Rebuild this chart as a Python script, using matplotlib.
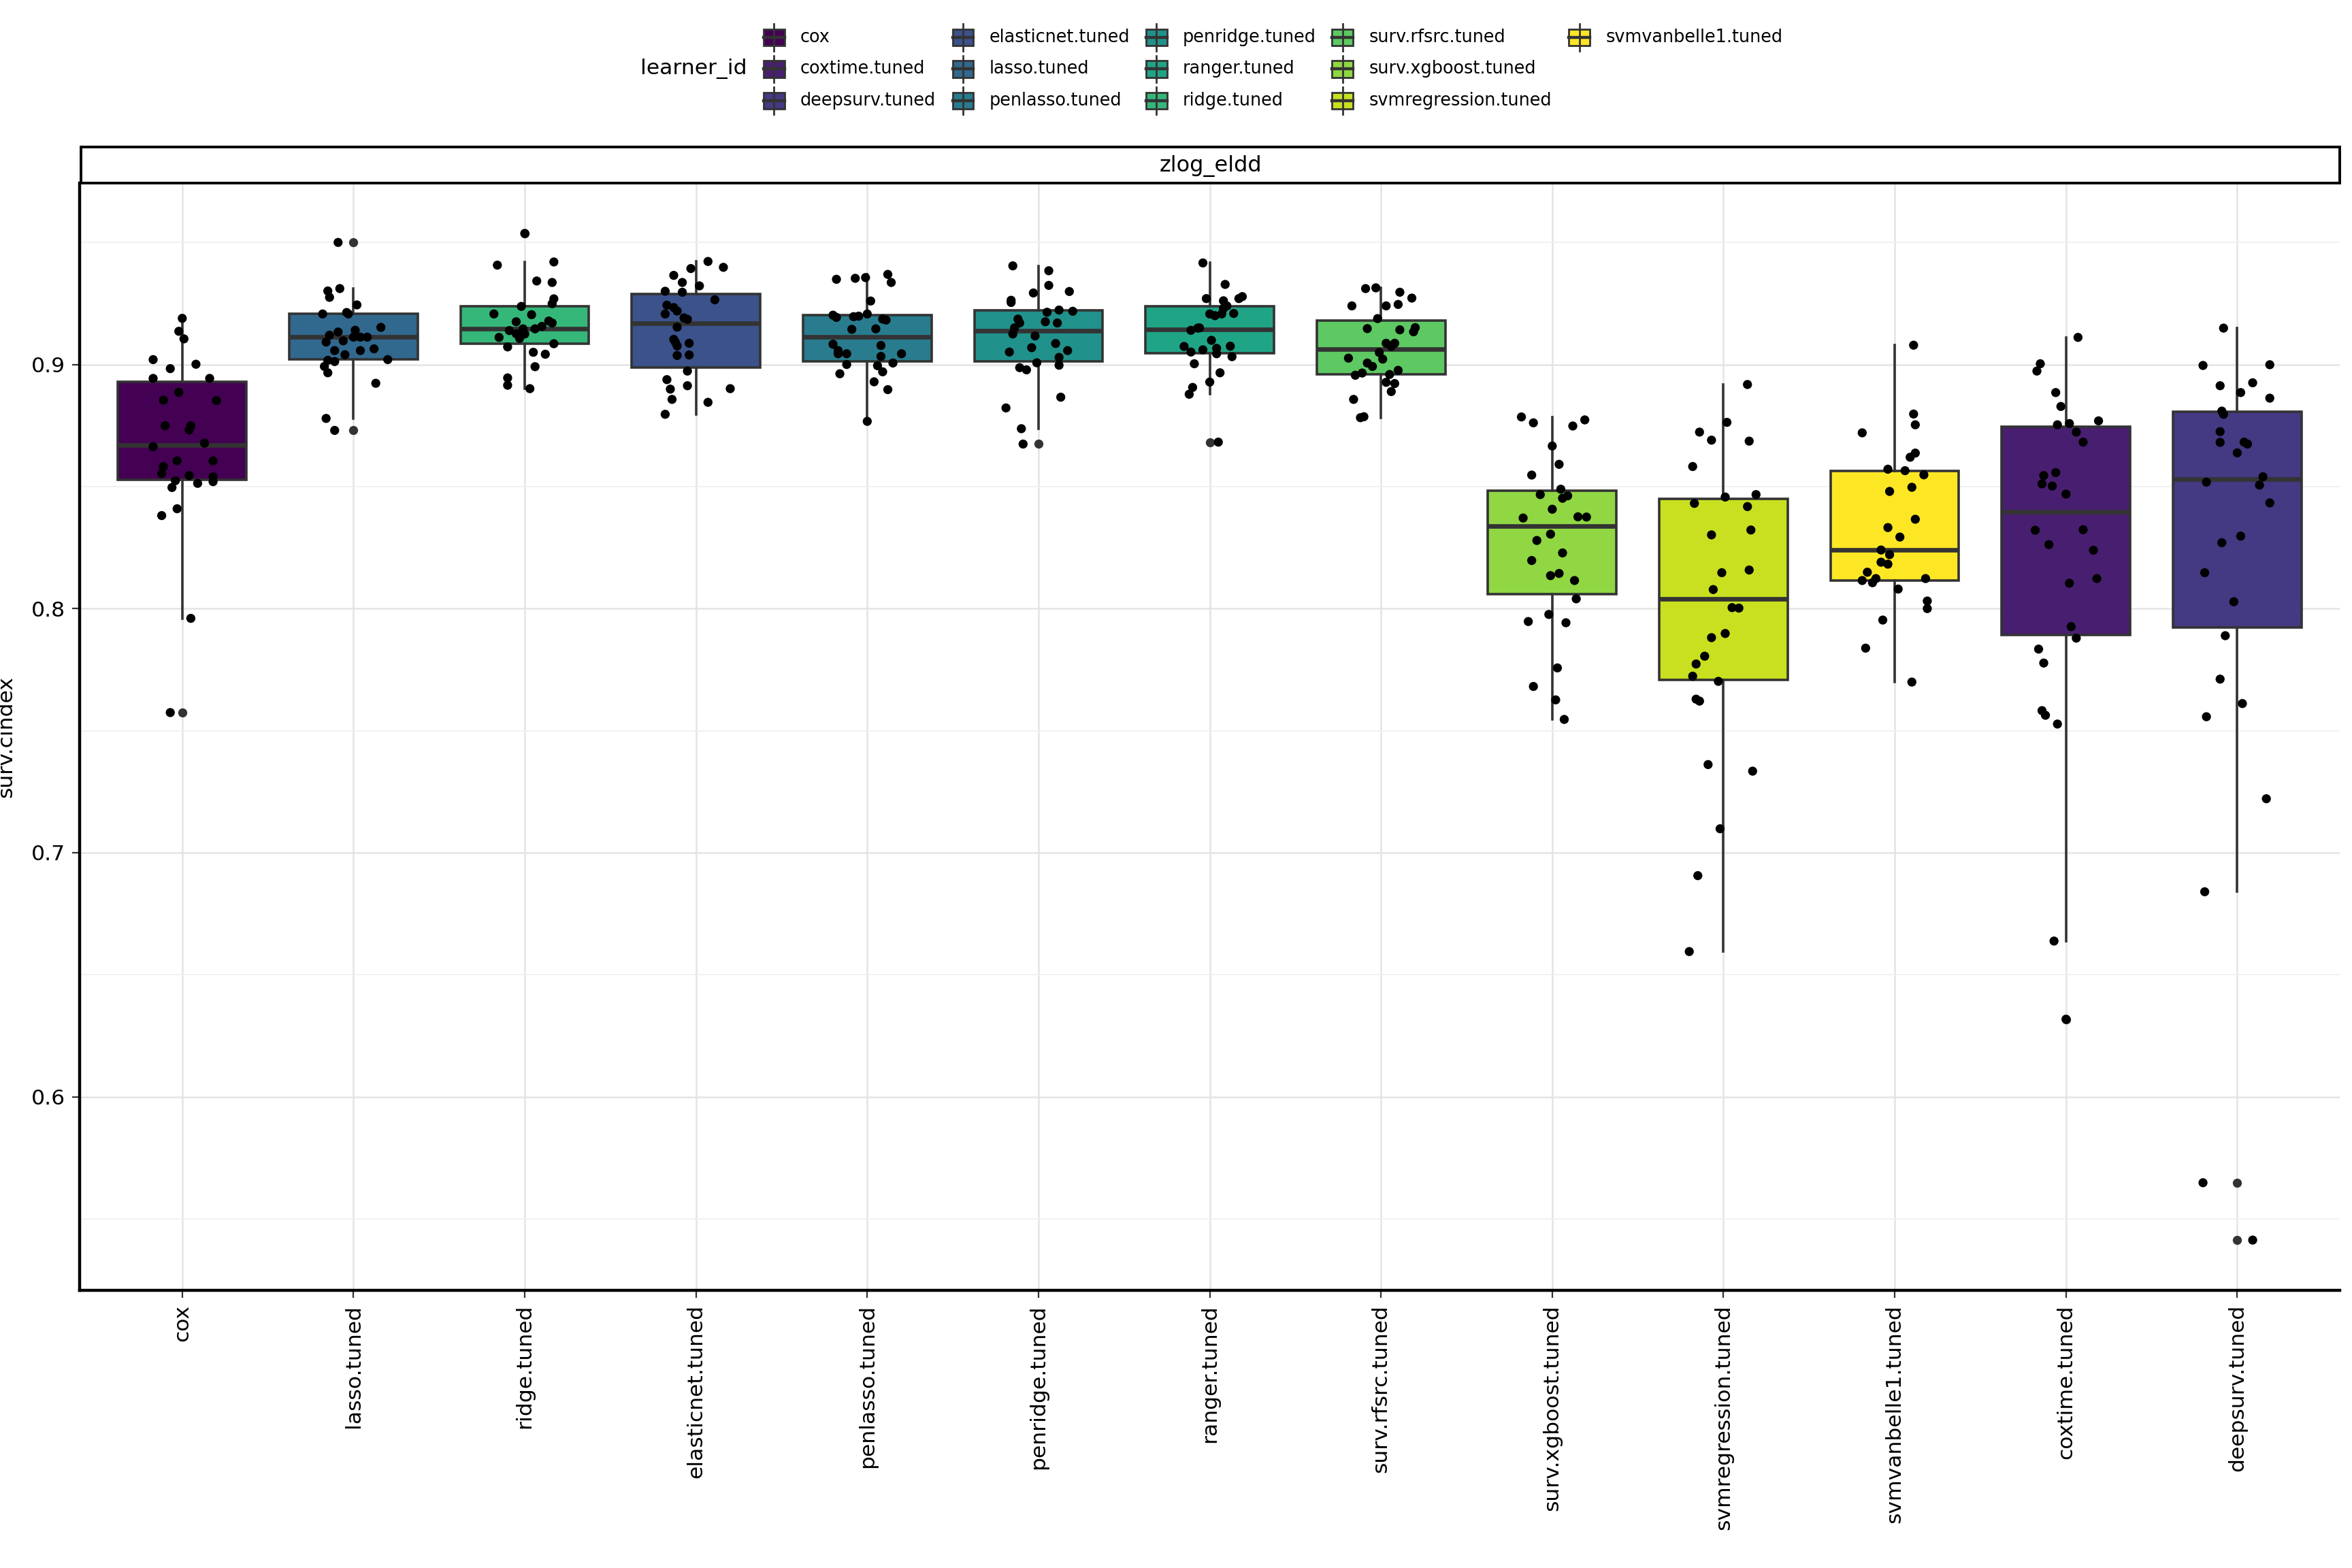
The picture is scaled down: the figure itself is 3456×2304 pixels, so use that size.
import matplotlib

matplotlib.use("Agg")
import matplotlib.pyplot as plt
import numpy as np
from matplotlib.patches import Rectangle

plt.rcParams["font.family"] = ["DejaVu Sans"]

# learner order on the x axis
learners = ["cox", "lasso.tuned", "ridge.tuned", "elasticnet.tuned", "penlasso.tuned",
            "penridge.tuned", "ranger.tuned", "surv.rfsrc.tuned", "surv.xgboost.tuned",
            "svmregression.tuned", "svmvanbelle1.tuned", "coxtime.tuned", "deepsurv.tuned"]
# legend (fill scale) order
legend_order = ["cox", "coxtime.tuned", "deepsurv.tuned", "elasticnet.tuned", "lasso.tuned",
                "penlasso.tuned", "penridge.tuned", "ranger.tuned", "ridge.tuned",
                "surv.rfsrc.tuned", "surv.xgboost.tuned", "svmregression.tuned",
                "svmvanbelle1.tuned"]

# surv.cindex per resampling iteration, with the jitter offsets used
cox_vals = [0.9189, 0.9136, 0.9105, 0.9020, 0.8983, 0.9001, 0.8943, 0.8943, 0.8886, 0.8854,
            0.8852, 0.8749, 0.8749, 0.8732, 0.8663, 0.8678, 0.8605, 0.8605, 0.8582, 0.8553,
            0.8545, 0.8524, 0.8540, 0.8520, 0.8496, 0.8513, 0.8409, 0.8381, 0.7960, 0.7574]
cox_jit = [0.00, -0.02, 0.01, -0.17, -0.07, 0.08, -0.17, 0.16, -0.02, -0.11, 0.20, -0.10, 0.05,
           0.04, -0.17, 0.13, -0.03, 0.18, -0.11, -0.12, 0.04, -0.04, 0.18, 0.18, -0.06, 0.09,
           -0.03, -0.12, 0.05, -0.07]
lasso_vals = [0.9500, 0.9301, 0.9311, 0.9275, 0.9244, 0.9207, 0.9213, 0.9207, 0.9152, 0.9140,
              0.9133, 0.9120, 0.9112, 0.9112, 0.9112, 0.9097, 0.9092, 0.9057, 0.9057, 0.9064,
              0.9040, 0.9017, 0.9012, 0.9020, 0.8992, 0.8966, 0.8923, 0.8779, 0.8730]
lasso_jit = [-0.09, -0.15, -0.08, -0.14, 0.02, -0.18, -0.04, -0.03, 0.16, 0.01, -0.09, -0.14,
             0.00, 0.04, 0.08, -0.06, -0.16, -0.11, 0.04, 0.12, -0.05, -0.15, -0.11, 0.20,
             -0.17, -0.15, 0.13, -0.16, -0.11]
ridge_vals = [0.9537, 0.9407, 0.9420, 0.9342, 0.9336, 0.9269, 0.9249, 0.9238, 0.9207, 0.9204,
              0.9175, 0.9178, 0.9170, 0.9156, 0.9139, 0.9146, 0.9146, 0.9126, 0.9125, 0.9111,
              0.9107, 0.9072, 0.9085, 0.9050, 0.9042, 0.8991, 0.8945, 0.8915, 0.8901]
ridge_jit = [0.00, -0.16, 0.17, 0.07, 0.16, 0.17, 0.16, -0.02, -0.18, 0.04, -0.05, 0.14, 0.16,
             0.10, -0.09, -0.01, 0.06, -0.05, 0.00, -0.15, -0.03, -0.10, 0.17, 0.05, 0.12,
             0.06, -0.10, -0.10, 0.03]
elastic_vals = [0.9422, 0.9398, 0.9393, 0.9365, 0.9336, 0.9322, 0.9300, 0.9296, 0.9265, 0.9243,
                0.9233, 0.9219, 0.9207, 0.9191, 0.9185, 0.9153, 0.9103, 0.9091, 0.9076, 0.9087,
                0.9037, 0.9039, 0.8973, 0.8938, 0.8899, 0.8913, 0.8901, 0.8857, 0.8845, 0.8796]
elastic_jit = [0.07, 0.16, -0.03, -0.13, -0.08, 0.02, -0.18, -0.08, 0.11, -0.17, -0.13, -0.11,
               -0.18, -0.07, -0.05, -0.11, -0.13, -0.12, -0.11, -0.04, -0.11, -0.04, -0.05,
               -0.17, -0.15, -0.05, 0.20, -0.14, 0.07, -0.18]
penlasso_vals = [0.9349, 0.9353, 0.9356, 0.9369, 0.9336, 0.9260, 0.9202, 0.9193, 0.9196, 0.9198,
                 0.9207, 0.9186, 0.9182, 0.9144, 0.9146, 0.9083, 0.9057, 0.9044, 0.9044, 0.9078,
                 0.9033, 0.9044, 0.9000, 0.8995, 0.9006, 0.8970, 0.8962, 0.8929, 0.8897, 0.8767]
penlasso_jit = [-0.18, -0.07, -0.01, 0.12, 0.14, 0.02, -0.20, -0.18, -0.08, -0.05, 0.00, 0.09,
                0.11, -0.09, 0.05, -0.20, -0.17, -0.17, -0.12, 0.08, 0.08, 0.20, -0.12, 0.06,
                0.15, 0.09, -0.16, 0.04, 0.12, 0.00]
penridge_vals = [0.9404, 0.9384, 0.9324, 0.9293, 0.9299, 0.9263, 0.9254, 0.9214, 0.9223, 0.9218,
                 0.9186, 0.9170, 0.9175, 0.9170, 0.9150, 0.9125, 0.9117, 0.9086, 0.9069, 0.9051,
                 0.9057, 0.9029, 0.9007, 0.8997, 0.8987, 0.8978, 0.8866, 0.8822, 0.8737, 0.8674]
penridge_jit = [-0.15, 0.06, 0.06, -0.03, 0.18, -0.16, -0.16, 0.05, 0.12, 0.20, -0.12, -0.11,
                0.04, 0.11, -0.14, -0.15, -0.02, 0.10, -0.04, -0.17, 0.17, 0.12, -0.01, 0.12,
                -0.11, -0.07, 0.13, -0.19, -0.10, -0.09]
ranger_vals = [0.9416, 0.9328, 0.9270, 0.9261, 0.9270, 0.9278, 0.9241, 0.9229, 0.9207, 0.9200,
               0.9207, 0.9209, 0.9149, 0.9140, 0.9099, 0.9074, 0.9051, 0.9060, 0.9066, 0.9044,
               0.9075, 0.9032, 0.9003, 0.8966, 0.8928, 0.8906, 0.8878, 0.8682, 0.9150, 0.9240]
ranger_jit = [-0.04, 0.09, -0.02, 0.08, 0.17, 0.19, 0.09, 0.08, 0.00, 0.03, 0.07, 0.14, -0.07,
              -0.11, 0.01, -0.15, -0.11, -0.04, 0.04, 0.04, 0.12, 0.13, -0.09, 0.06, 0.00,
              -0.10, -0.12, 0.05, -0.06, 0.10]
rfsrc_vals = [0.9311, 0.9314, 0.9296, 0.9272, 0.9240, 0.9240, 0.9246, 0.9188, 0.9147, 0.9142,
              0.9151, 0.9134, 0.9087, 0.9087, 0.9074, 0.9049, 0.9026, 0.9022, 0.9006, 0.8992,
              0.8956, 0.8965, 0.8959, 0.8976, 0.8927, 0.8922, 0.8889, 0.8857, 0.8782, 0.8786]
rfsrc_jit = [-0.09, -0.03, 0.11, 0.18, -0.17, 0.03, 0.10, -0.02, -0.08, 0.11, 0.20, 0.19, 0.03,
             0.08, 0.06, -0.01, -0.19, 0.01, -0.08, -0.05, -0.15, -0.11, 0.05, 0.10, 0.03,
             0.08, 0.06, -0.16, -0.12, -0.10]
xgb_vals = [0.8785, 0.8761, 0.8748, 0.8773, 0.8666, 0.8591, 0.8547, 0.8489, 0.8467, 0.8462,
            0.8452, 0.8407, 0.8371, 0.8376, 0.8375, 0.8305, 0.8279, 0.8228, 0.8197, 0.8135,
            0.8144, 0.8115, 0.8040, 0.7976, 0.7947, 0.7942, 0.7757, 0.7681, 0.7626, 0.7546]
xgb_jit = [-0.18, -0.11, 0.12, 0.19, 0.00, 0.04, -0.12, 0.05, -0.07, 0.09, 0.06, 0.00, -0.17,
           0.15, 0.20, -0.01, -0.09, 0.06, -0.12, -0.01, 0.04, 0.13, 0.14, -0.02, -0.14, 0.08,
           0.03, -0.11, 0.02, 0.07]
svmreg_vals = [0.8918, 0.8763, 0.8723, 0.8690, 0.8686, 0.8582, 0.8457, 0.8467, 0.8431, 0.8418,
               0.8302, 0.8322, 0.8147, 0.8158, 0.8078, 0.8004, 0.8002, 0.7898, 0.7881, 0.7805,
               0.7773, 0.7723, 0.7702, 0.7629, 0.7621, 0.7361, 0.7334, 0.7098, 0.6906, 0.6595]
svmreg_jit = [0.14, 0.02, -0.14, -0.07, 0.15, -0.18, 0.01, 0.19, -0.17, 0.14, -0.07, 0.16,
              -0.01, 0.15, -0.06, 0.05, 0.09, 0.01, -0.07, -0.11, -0.16, -0.18, -0.03, -0.16,
              -0.14, -0.09, 0.17, -0.02, -0.15, -0.20]
vanbelle_vals = [0.9079, 0.8720, 0.8797, 0.8753, 0.8637, 0.8620, 0.8571, 0.8565, 0.8548, 0.8480,
                 0.8497, 0.8366, 0.8332, 0.8293, 0.8240, 0.8221, 0.8190, 0.8182, 0.8149, 0.8123,
                 0.8115, 0.8123, 0.8106, 0.8080, 0.8031, 0.8000, 0.7953, 0.7838, 0.7699]
vanbelle_jit = [0.11, -0.19, 0.11, 0.12, 0.12, 0.09, -0.04, 0.06, 0.17, -0.03, 0.10, 0.12,
                -0.04, 0.03, -0.08, -0.03, -0.08, -0.04, -0.16, 0.18, -0.19, -0.11, -0.13,
                0.02, 0.19, 0.19, -0.07, -0.17, 0.10]
coxtime_vals = [0.9111, 0.9003, 0.8973, 0.8885, 0.8828, 0.8753, 0.8758, 0.8769, 0.8723, 0.8682,
                0.8557, 0.8545, 0.8511, 0.8502, 0.8469, 0.8321, 0.8323, 0.8262, 0.8239, 0.8123,
                0.8104, 0.7926, 0.7879, 0.7834, 0.7777, 0.7582, 0.7563, 0.7527, 0.6638, 0.6318]
coxtime_jit = [0.07, -0.15, -0.17, -0.06, -0.03, -0.05, 0.02, 0.19, 0.06, 0.10, -0.06, -0.13,
               -0.14, -0.08, 0.00, -0.18, 0.10, -0.10, 0.16, 0.18, 0.02, 0.03, 0.06, -0.16,
               -0.13, -0.14, -0.12, -0.05, -0.07, 0.00]
deepsurv_vals = [0.9149, 0.8996, 0.8999, 0.8913, 0.8925, 0.8885, 0.8862, 0.8809, 0.8796, 0.8725,
                 0.8681, 0.8682, 0.8674, 0.8638, 0.8540, 0.8518, 0.8506, 0.8433, 0.8270, 0.8297,
                 0.8147, 0.8028, 0.7889, 0.7711, 0.7611, 0.7557, 0.7221, 0.6840, 0.5648, 0.5413]
deepsurv_jit = [-0.08, -0.20, 0.19, -0.10, 0.09, 0.02, 0.19, -0.09, -0.08, -0.10, -0.10, 0.04,
                0.06, 0.00, 0.15, -0.18, 0.13, 0.19, -0.09, 0.02, -0.19, -0.02, -0.07, -0.10,
                0.03, -0.18, 0.17, -0.19, -0.20, 0.09]

values = [cox_vals, lasso_vals, ridge_vals, elastic_vals, penlasso_vals, penridge_vals,
          ranger_vals, rfsrc_vals, xgb_vals, svmreg_vals, vanbelle_vals, coxtime_vals,
          deepsurv_vals]
jitters = [cox_jit, lasso_jit, ridge_jit, elastic_jit, penlasso_jit, penridge_jit, ranger_jit,
           rfsrc_jit, xgb_jit, svmreg_jit, vanbelle_jit, coxtime_jit, deepsurv_jit]

cmap = plt.get_cmap("viridis")
fill = {lab: cmap(i / (len(legend_order) - 1)) for i, lab in enumerate(legend_order)}

EDGE = "#333333"
W_PX, H_PX = 1568, 1045          # layout grid (preview pixels)

fig = plt.figure(figsize=(17.28, 11.52), dpi=200)
ax = fig.add_axes([53 / W_PX, 1 - 860 / H_PX, (1560 - 53) / W_PX, (860 - 122) / H_PX])

pos = np.arange(1, len(learners) + 1)
bp = ax.boxplot(values, positions=pos, widths=0.75, patch_artist=True, showcaps=False,
                whis=1.5, zorder=2,
                boxprops=dict(edgecolor=EDGE, linewidth=1.3),
                whiskerprops=dict(color=EDGE, linewidth=1.3),
                medianprops=dict(color=EDGE, linewidth=2.4),
                flierprops=dict(marker="o", markerfacecolor=EDGE, markeredgecolor="none",
                                markersize=4.8))
for patch, lab in zip(bp["boxes"], learners):
    patch.set_facecolor(fill[lab])

for p, v, j in zip(pos, values, jitters):
    ax.scatter(p + np.asarray(j), v, s=23, color="black", edgecolors="none", zorder=3)

allv = np.concatenate([np.asarray(v) for v in values])
lo, hi = allv.min(), allv.max()
pad = 0.05 * (hi - lo)
ax.set_ylim(lo - pad, hi + pad)
ax.set_xlim(0.4, len(learners) + 0.6)

ax.set_yticks([0.6, 0.7, 0.8, 0.9])
ax.set_yticks([0.55, 0.65, 0.75, 0.85, 0.95], minor=True)
ax.set_xticks(pos)
ax.set_xticklabels(learners, rotation=90, fontsize=11.3)
ax.tick_params(axis="y", labelsize=11.3, length=4, width=0.8, color=EDGE)
ax.tick_params(axis="x", length=4, width=0.8, color=EDGE)
ax.tick_params(axis="y", which="minor", length=0)
ax.grid(True, which="major", color="#e4e4e4", linewidth=0.9, zorder=0)
ax.grid(True, which="minor", axis="y", color="#efefef", linewidth=0.6, zorder=0)
ax.set_axisbelow(True)
for s in ("top", "right"):
    ax.spines[s].set_visible(False)
for s in ("left", "bottom"):
    ax.spines[s].set_linewidth(1.6)
    ax.spines[s].set_color("black")
ax.set_ylabel("surv.cindex", fontsize=11.3, labelpad=8)

# overlay in preview-pixel coordinates for strip and legend
ov = fig.add_axes([0, 0, 1, 1], zorder=5)
ov.set_xlim(0, W_PX)
ov.set_ylim(H_PX, 0)
ov.axis("off")
ov.patch.set_alpha(0)

ov.add_patch(Rectangle((54, 98), 1506, 24, facecolor="white", edgecolor="black", lw=1.4))
ov.text((54 + 1560) / 2, 110.5, "zlog_eldd", ha="center", va="center", fontsize=11.5)

col_x = [516, 642, 771, 895, 1053]
row_y = [25, 46, 67]
for i, lab in enumerate(legend_order):
    c, r = divmod(i, 3)
    kx, ky = col_x[c], row_y[r]
    ov.plot([kx, kx], [ky - 9, ky + 9], color=EDGE, lw=1.0)
    ov.add_patch(Rectangle((kx - 7, ky - 5.5), 14, 11, facecolor=fill[lab], edgecolor=EDGE,
                           lw=1.0))
    ov.plot([kx - 7, kx + 7], [ky, ky], color=EDGE, lw=1.6)
    ov.text(kx + 17.5, ky, lab, ha="left", va="center", fontsize=9.2)
ov.text(498, row_y[1], "learner_id", ha="right", va="center", fontsize=11.3)

fig.savefig("out.png", dpi=200)
